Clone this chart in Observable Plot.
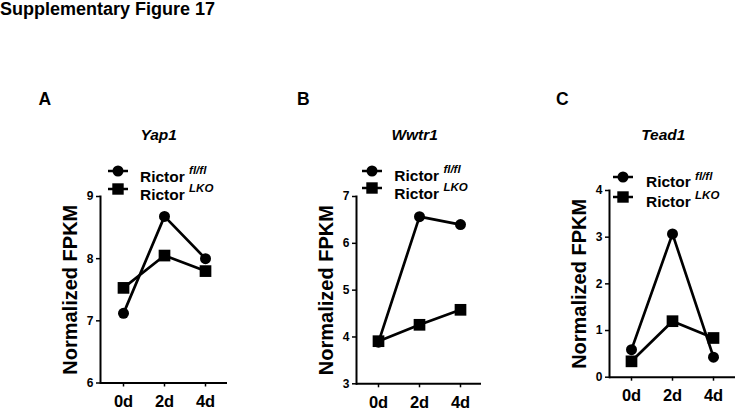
<!DOCTYPE html>
<html><head><meta charset="utf-8">
<script src="https://cdn.jsdelivr.net/npm/d3@7"></script>
<script src="https://cdn.jsdelivr.net/npm/@observablehq/plot@0.6"></script>
<style>
body{margin:0;width:737px;height:410px;position:relative;overflow:hidden;background:#fff;font-family:"Liberation Sans",Arial,Helvetica,sans-serif;color:#000}
.abs{position:absolute;white-space:nowrap;line-height:1}
.title{font-size:18px;font-weight:bold}
.letter{font-size:17.5px;font-weight:bold}
.gene{font-size:15.5px;font-weight:bold;font-style:italic;transform:translateX(-50%)}
.leg{font-size:15.5px;font-weight:bold}
.leg sup{font-size:11.5px;font-style:italic;vertical-align:baseline;position:relative;top:-7.7px}
svg text{font-weight:bold}
svg [aria-label="y-axis label"] text, svg [aria-label="y-axis label"]{font-size:20px}
</style></head>
<body>
<script>
// ---- data ----
const days = ["0d", "2d", "4d"];
const seriesLabels = ["fl/fl", "LKO"];
const genes = ["Yap1", "Wwtr1", "Tead1"];
const panelLetters = ["A", "B", "C"];
const yap1FlFl = [7.12, 8.68, 8.00];
const yap1Lko = [7.53, 8.05, 7.80];
const wwtr1FlFl = [3.89, 6.57, 6.40];
const wwtr1Lko = [3.91, 4.26, 4.58];
const tead1FlFl = [0.59, 3.07, 0.43];
const tead1Lko = [0.34, 1.20, 0.84];
const yap1Ticks = [6, 7, 8, 9];
const wwtr1Ticks = [3, 4, 5, 6, 7];
const tead1Ticks = [0, 1, 2, 3, 4];
const yTitle = "Normalized FPKM";
const figTitle = "Supplementary Figure 17";

// ---- layout (positions / sizes) ----
const FONT = '"Liberation Sans", Arial, Helvetica, sans-serif';
const layout = [
  {left: 30, width: 207, mr: 10, mt: 116, mb: 27.5, letterX: 38.5, geneX: 158.7, symX: 117.7, symY: [170.7, 189.3], textX: 140, base: [181.7, 200]},
  {left: 286, width: 205, mr: 10, mt: 116, mb: 26.7, letterX: 297, geneX: 414.7, symX: 371.7, symY: [170.7, 188.3], textX: 394.3, base: [180.7, 199]},
  {left: 539, width: 198, mr: 2, mt: 110, mb: 33.3, letterX: 556, geneX: 663.3, symX: 623.3, symY: [177.3, 196.7], textX: 646, base: [187.3, 206.7]}
];
const panelData = [
  {flfl: yap1FlFl, lko: yap1Lko, ticks: yap1Ticks},
  {flfl: wwtr1FlFl, lko: wwtr1Lko, ticks: wwtr1Ticks},
  {flfl: tead1FlFl, lko: tead1Lko, ticks: tead1Ticks}
];

function addDiv(cls, text, left, top) {
  const d = document.createElement("div");
  d.className = "abs " + cls;
  d.textContent = text;
  d.style.left = left + "px";
  d.style.top = top + "px";
  document.body.appendChild(d);
  return d;
}

addDiv("title", figTitle, 0, 0);

panelData.forEach((p, i) => {
  const L = layout[i];
  const rows = days.flatMap((d, j) => [
    {day: d, value: p.flfl[j], series: seriesLabels[0]},
    {day: d, value: p.lko[j], series: seriesLabels[1]}
  ]);
  const chart = Plot.plot({
    width: L.width, height: 330,
    marginLeft: 70, marginRight: L.mr, marginTop: L.mt, marginBottom: L.mb,
    style: {fontFamily: FONT, background: "transparent", overflow: "visible", color: "black"},
    x: {type: "point", domain: days, padding: 0.52},
    y: {domain: [p.ticks[0], p.ticks[p.ticks.length - 1]]},
    marks: [
      Plot.frame({anchor: "left", strokeWidth: 2}),
      Plot.ruleY([p.ticks[0]], {strokeWidth: 2}),
      Plot.axisY({ticks: p.ticks, tickFormat: d3.format("d"), tickSize: 4, tickPadding: 3, fontSize: 12, strokeWidth: 1.5,
        label: yTitle, labelAnchor: "center", labelArrow: "none", labelOffset: 38}),
      Plot.axisX({tickSize: 4, tickPadding: 8, fontSize: 16.5, strokeWidth: 1.5, label: null}),
      Plot.line(rows, {x: "day", y: "value", z: "series", stroke: "black", strokeWidth: 2.7}),
      Plot.dot(rows.filter(d => d.series === seriesLabels[0]), {x: "day", y: "value", symbol: "circle", r: 5.5, fill: "black"}),
      Plot.dot(rows.filter(d => d.series === seriesLabels[1]), {x: "day", y: "value", symbol: "square", r: 6.6, fill: "black"})
    ]
  });
  chart.style.position = "absolute";
  chart.style.left = L.left + "px";
  chart.style.top = "80px";
  document.body.appendChild(chart);

  addDiv("letter", panelLetters[i], L.letterX, 106 - 14.8);
  addDiv("gene", genes[i], L.geneX, 140 - 13.1);

  // legend
  seriesLabels.forEach((s, k) => {
    const sv = d3.create("svg").attr("width", 24).attr("height", 16)
      .style("position", "absolute").style("left", (L.symX - 12) + "px").style("top", (L.symY[k] - 8) + "px");
    sv.append("line").attr("x1", 2).attr("x2", 22).attr("y1", 8).attr("y2", 8).attr("stroke", "black").attr("stroke-width", 2.5);
    if (k === 0) sv.append("circle").attr("cx", 12).attr("cy", 8).attr("r", 5.5).attr("fill", "black");
    else sv.append("rect").attr("x", 6.3).attr("y", 2.3).attr("width", 11.4).attr("height", 11.4).attr("fill", "black");
    document.body.appendChild(sv.node());
    const d = document.createElement("div");
    d.className = "abs leg";
    d.style.left = L.textX + "px";
    d.style.top = (L.base[k] - 13.1) + "px";
    d.appendChild(document.createTextNode("Rictor "));
    const sup = document.createElement("sup");
    sup.textContent = s;
    d.appendChild(sup);
    document.body.appendChild(d);
  });
});
</script>
</body></html>
